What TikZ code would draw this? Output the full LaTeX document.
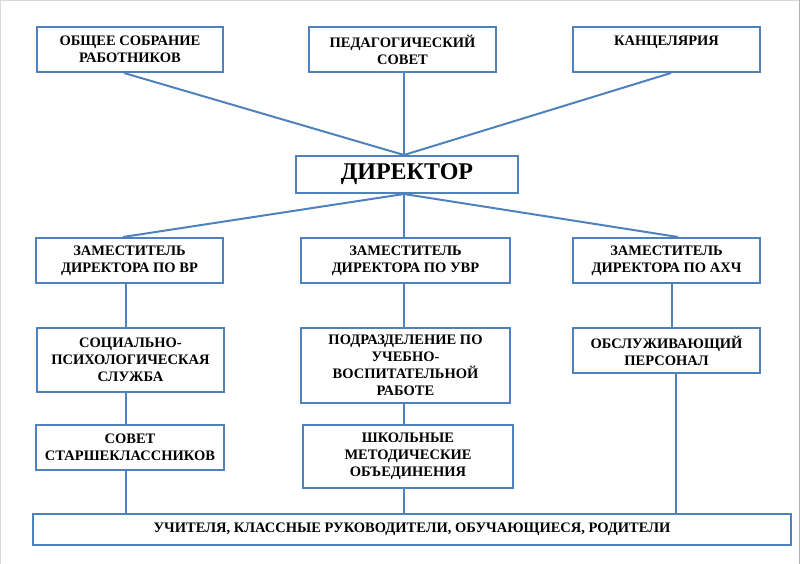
\documentclass[tikz,border=0pt]{standalone}
\usepackage{fontspec}
\setmainfont{Liberation Serif}
\definecolor{boxblue}{RGB}{79,129,189}
\begin{document}
\begin{tikzpicture}[x=1pt,y=-1pt,
        unit/.style={draw=boxblue,line width=2pt,anchor=north west,inner sep=2pt,align=center,
            font=\rmfamily\bfseries\fontsize{14.5}{17}\selectfont},
        link/.style={draw=boxblue,line width=2pt}]
        \useasboundingbox (0,0) rectangle (800,564);
        \draw[gray!30] (0.5,564) -- (0.5,0.5) -- (799.5,0.5);
        \draw[gray!60] (799.5,0.5) -- (799.5,564);
        \node[unit,minimum width=186,minimum height=45] (sobranie) at (36,26) {ОБЩЕЕ СОБРАНИЕ\\РАБОТНИКОВ};
        \node[unit,minimum width=187,minimum height=45] (pedsovet) at (308,26) {ПЕДАГОГИЧЕСКИЙ\\СОВЕТ};
        \node[unit,minimum width=187,minimum height=45] (kanc) at (572,26) {КАНЦЕЛЯРИЯ\\~};
        \node[unit,minimum width=222,minimum height=37,font=\rmfamily\bfseries\fontsize{24}{28}\selectfont] (direktor) at (295,155) {ДИРЕКТОР};
        \node[unit,minimum width=187,minimum height=45] (zamvr) at (35,237) {ЗАМЕСТИТЕЛЬ\\ДИРЕКТОРА ПО ВР};
        \node[unit,minimum width=209,minimum height=45] (zamuvr) at (300,237) {ЗАМЕСТИТЕЛЬ\\ДИРЕКТОРА ПО УВР};
        \node[unit,minimum width=187,minimum height=45] (zamahch) at (572,237) {ЗАМЕСТИТЕЛЬ\\ДИРЕКТОРА ПО АХЧ};
        \node[unit,minimum width=187,minimum height=64] (socpsy) at (36,327) {СОЦИАЛЬНО-\\ПСИХОЛОГИЧЕСКАЯ\\СЛУЖБА};
        \node[unit,minimum width=209,minimum height=75] (podrazd) at (300,327) {ПОДРАЗДЕЛЕНИЕ ПО\\УЧЕБНО-\\ВОСПИТАТЕЛЬНОЙ\\РАБОТЕ};
        \node[unit,minimum width=187,minimum height=45] (obsl) at (572,327) {ОБСЛУЖИВАЮЩИЙ\\ПЕРСОНАЛ};
        \node[unit,minimum width=188,minimum height=45] (sovet) at (35,424) {СОВЕТ\\СТАРШЕКЛАССНИКОВ};
        \node[unit,minimum width=210,minimum height=63] (shmo) at (302,424) {ШКОЛЬНЫЕ\\МЕТОДИЧЕСКИЕ\\ОБЪЕДИНЕНИЯ};
        \node[unit,minimum width=758,minimum height=31] (vse) at (32,513) {УЧИТЕЛЯ, КЛАССНЫЕ РУКОВОДИТЕЛИ, ОБУЧАЮЩИЕСЯ, РОДИТЕЛИ};
        \coordinate (dtop) at ([xshift=-3pt]direktor.north);
        \coordinate (dbot) at ([xshift=-3pt]direktor.south);
        \draw[link] ([xshift=-6pt]sobranie.south) -- (dtop);
        \draw[link] ([xshift=1.5pt]pedsovet.south) -- (dtop);
        \draw[link] ([xshift=4.5pt]kanc.south) -- (dtop);
        \draw[link] (dbot) -- ([xshift=-6.5pt]zamvr.north);
        \draw[link] (dbot) -- (dbot |- zamuvr.north);
        \draw[link] (dbot) -- ([xshift=11.5pt]zamahch.north);
        \draw[link] ([xshift=-3.5pt]zamvr.south) -- ([xshift=-3.5pt]zamvr.south |- socpsy.north);
        \draw[link] ([xshift=-3.5pt]zamvr.south |- socpsy.south) -- ([xshift=-3.5pt]zamvr.south |- sovet.north);
        \draw[link] ([xshift=-3.5pt]zamvr.south |- sovet.south) -- ([xshift=-3.5pt]zamvr.south |- vse.north);
        \draw[link] (dbot |- zamuvr.south) -- (dbot |- podrazd.north);
        \draw[link] (dbot |- podrazd.south) -- (dbot |- shmo.north);
        \draw[link] (dbot |- shmo.south) -- (dbot |- vse.north);
        \draw[link] ([xshift=5.5pt]zamahch.south) -- ([xshift=5.5pt]zamahch.south |- obsl.north);
        \draw[link] ([xshift=9.5pt]obsl.south) -- ([xshift=9.5pt]obsl.south |- vse.north);
    \end{tikzpicture}
\end{document}
